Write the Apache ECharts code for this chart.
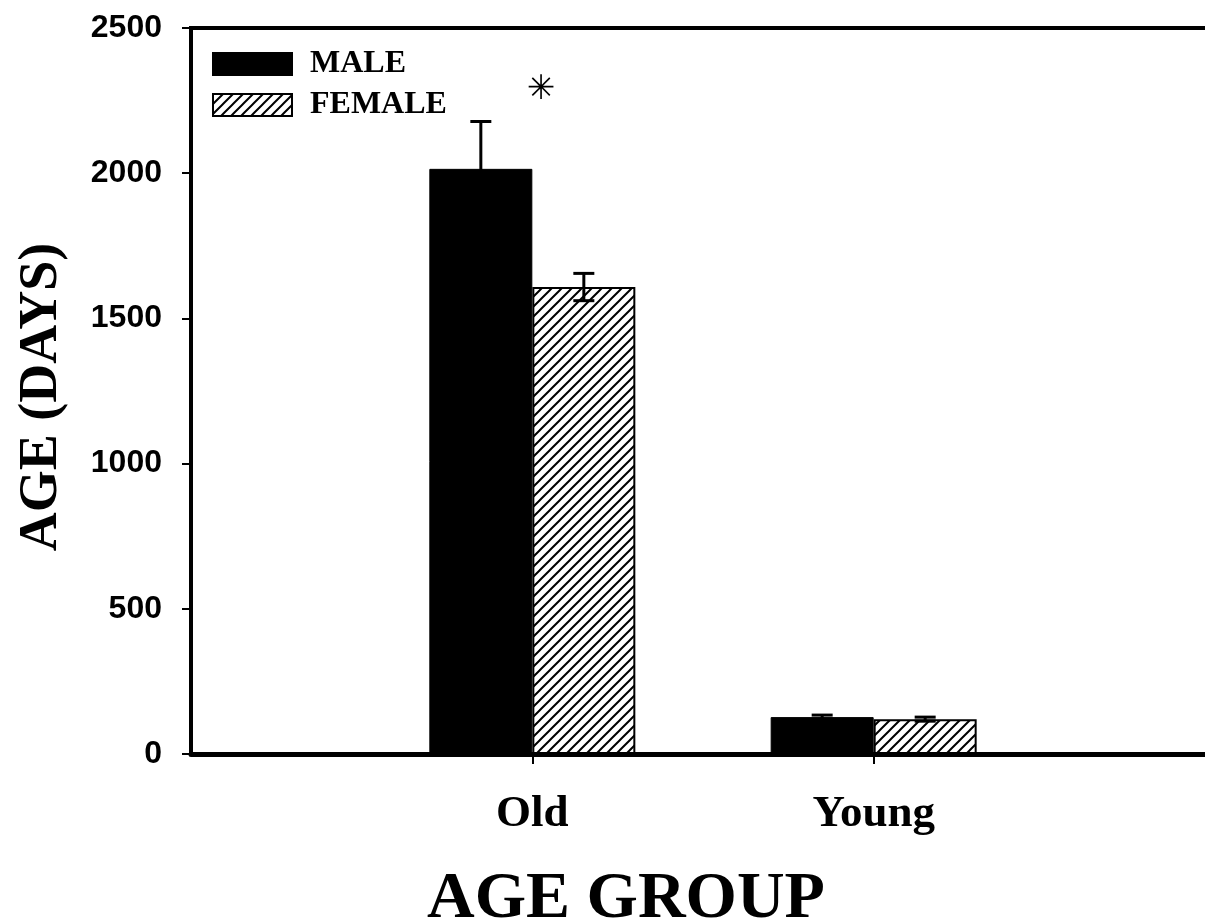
<!DOCTYPE html>
<html>
<head>
<meta charset="utf-8">
<script src="https://cdn.jsdelivr.net/npm/echarts@6/dist/echarts.min.js"></script>
<style>
html,body{margin:0;padding:0;background:#fff;overflow:hidden;}
#chart{width:1205px;height:922px;}
</style>
</head>
<body>
<div id="chart"></div>
<script>
// ---- data ----
const categories = ['Old', 'Young'];
const maleMean = [2015, 127];
const maleErr = [163, 7];
const femaleMean = [1608, 120];
const femaleErr = [47, 7];
const yTicks = [0, 500, 1000, 1500, 2000, 2500];
const seriesNames = ['MALE', 'FEMALE'];

// ---- styles ----
const SERIF = "'Liberation Serif','Times New Roman',serif";
const SANS = "'Liberation Sans',Arial,sans-serif";
const BAR_W = 103;

// hatch pattern
function hatch() {
  const s = 10;
  const c = document.createElement('canvas');
  c.width = s; c.height = s;
  const g = c.getContext('2d');
  g.fillStyle = '#fff'; g.fillRect(0, 0, s, s);
  g.strokeStyle = '#000'; g.lineWidth = 2;
  g.beginPath();
  g.moveTo(-1, s + 1); g.lineTo(s + 1, -1);
  g.moveTo(-2, 2); g.lineTo(2, -2);
  g.moveTo(s - 2, s + 2); g.lineTo(s + 2, s - 2);
  g.stroke();
  return c;
}
const hatchPattern = { image: hatch(), repeat: 'repeat' };

// padded category axis so that the y axis sits one band left of 'Old'
const axisCats = [' '].concat(categories, ['  ']);
function pad(arr) { return [null].concat(arr, [null]); }

function errSeries(means, errs, side) {
  const data = means.map((m, i) => [i + 1, m, errs[i]]);
  return {
    type: 'custom',
    z: 5,
    silent: true,
    data: data,
    renderItem: function (params, api) {
      const x = api.value(0), m = api.value(1), e = api.value(2);
      const top = api.coord([x, m + e]);
      const bot = api.coord([x, m - e]);
      const cx = top[0] + side * BAR_W / 2;
      const hw = 10.5;
      const st = { stroke: '#000', lineWidth: 3 };
      return {
        type: 'group',
        children: [
          { type: 'line', shape: { x1: cx, y1: top[1], x2: cx, y2: bot[1] }, style: st },
          { type: 'line', shape: { x1: cx - hw, y1: top[1], x2: cx + hw, y2: top[1] }, style: st },
          { type: 'line', shape: { x1: cx - hw, y1: bot[1], x2: cx + hw, y2: bot[1] }, style: st }
        ]
      };
    }
  };
}

const chart = echarts.init(document.getElementById('chart'), null, { renderer: 'canvas' });
chart.setOption({
  animation: false,
  backgroundColor: '#fff',
  grid: {
    left: 191, width: 1024, top: 28, bottom: 168,
    outerBoundsMode: 'none', containLabel: false,
    show: true, borderColor: '#000', borderWidth: 4, backgroundColor: 'transparent'
  },
  legend: {
    orient: 'vertical',
    left: 207, top: 43,
    itemWidth: 79, itemHeight: 22, itemGap: 9,
    icon: 'rect',
    data: seriesNames,
    textStyle: { fontFamily: SERIF, fontWeight: 'bold', fontSize: 32, color: '#000', padding: [0, 0, 0, 13] },
    selectedMode: false
  },
  xAxis: {
    type: 'category',
    data: axisCats,
    boundaryGap: false,
    axisLine: { lineStyle: { color: '#000', width: 5 } },
    axisTick: {
      length: 10, lineStyle: { color: '#000', width: 2 },
      interval: function (idx) { return idx === 1 || idx === 2; }
    },
    axisLabel: {
      interval: 0,
      margin: 38,
      fontFamily: SERIF, fontWeight: 'bold', fontSize: 45, color: '#000',
      formatter: function (v) { return v.trim(); }
    },
    splitLine: { show: false }
  },
  yAxis: {
    type: 'value',
    min: yTicks[0], max: yTicks[yTicks.length - 1], interval: 500,
    axisLine: { show: true, lineStyle: { color: '#000', width: 4 } },
    axisTick: { show: true, length: 9, lineStyle: { color: '#000', width: 2 } },
    axisLabel: {
      margin: 29, fontFamily: SANS, fontWeight: 'bold', fontSize: 32, color: '#000',
      formatter: function (v) { return String(v); }
    },
    splitLine: { show: false }
  },
  graphic: [
    {
      type: 'text', x: 42, y: 397, rotation: Math.PI / 2,
      style: { text: 'AGE (DAYS)', font: 'bold 54px ' + SERIF, fill: '#000', textAlign: 'center', textVerticalAlign: 'middle' }
    },
    {
      type: 'text', x: 626, y: 900,
      style: { text: 'AGE GROUP', font: 'bold 66px ' + SERIF, fill: '#000', textAlign: 'center', textVerticalAlign: 'middle' }
    },
    {
      type: 'text', x: 541, y: 90,
      style: { text: '\u2733', font: 'bold 34px "DejaVu Sans"', fill: '#000', textAlign: 'center', textVerticalAlign: 'middle' }
    }
  ],
  series: [
    {
      name: seriesNames[0], type: 'bar', data: pad(maleMean),
      barWidth: BAR_W, barGap: '0%',
      itemStyle: { color: '#000', borderColor: '#000', borderWidth: 1 }
    },
    {
      name: seriesNames[1], type: 'bar', data: pad(femaleMean),
      barWidth: BAR_W, barGap: '0%',
      itemStyle: { color: hatchPattern, borderColor: '#000', borderWidth: 2 }
    },
    errSeries(maleMean, maleErr, -1),
    errSeries(femaleMean, femaleErr, 1)
  ]
});
</script>
</body>
</html>
